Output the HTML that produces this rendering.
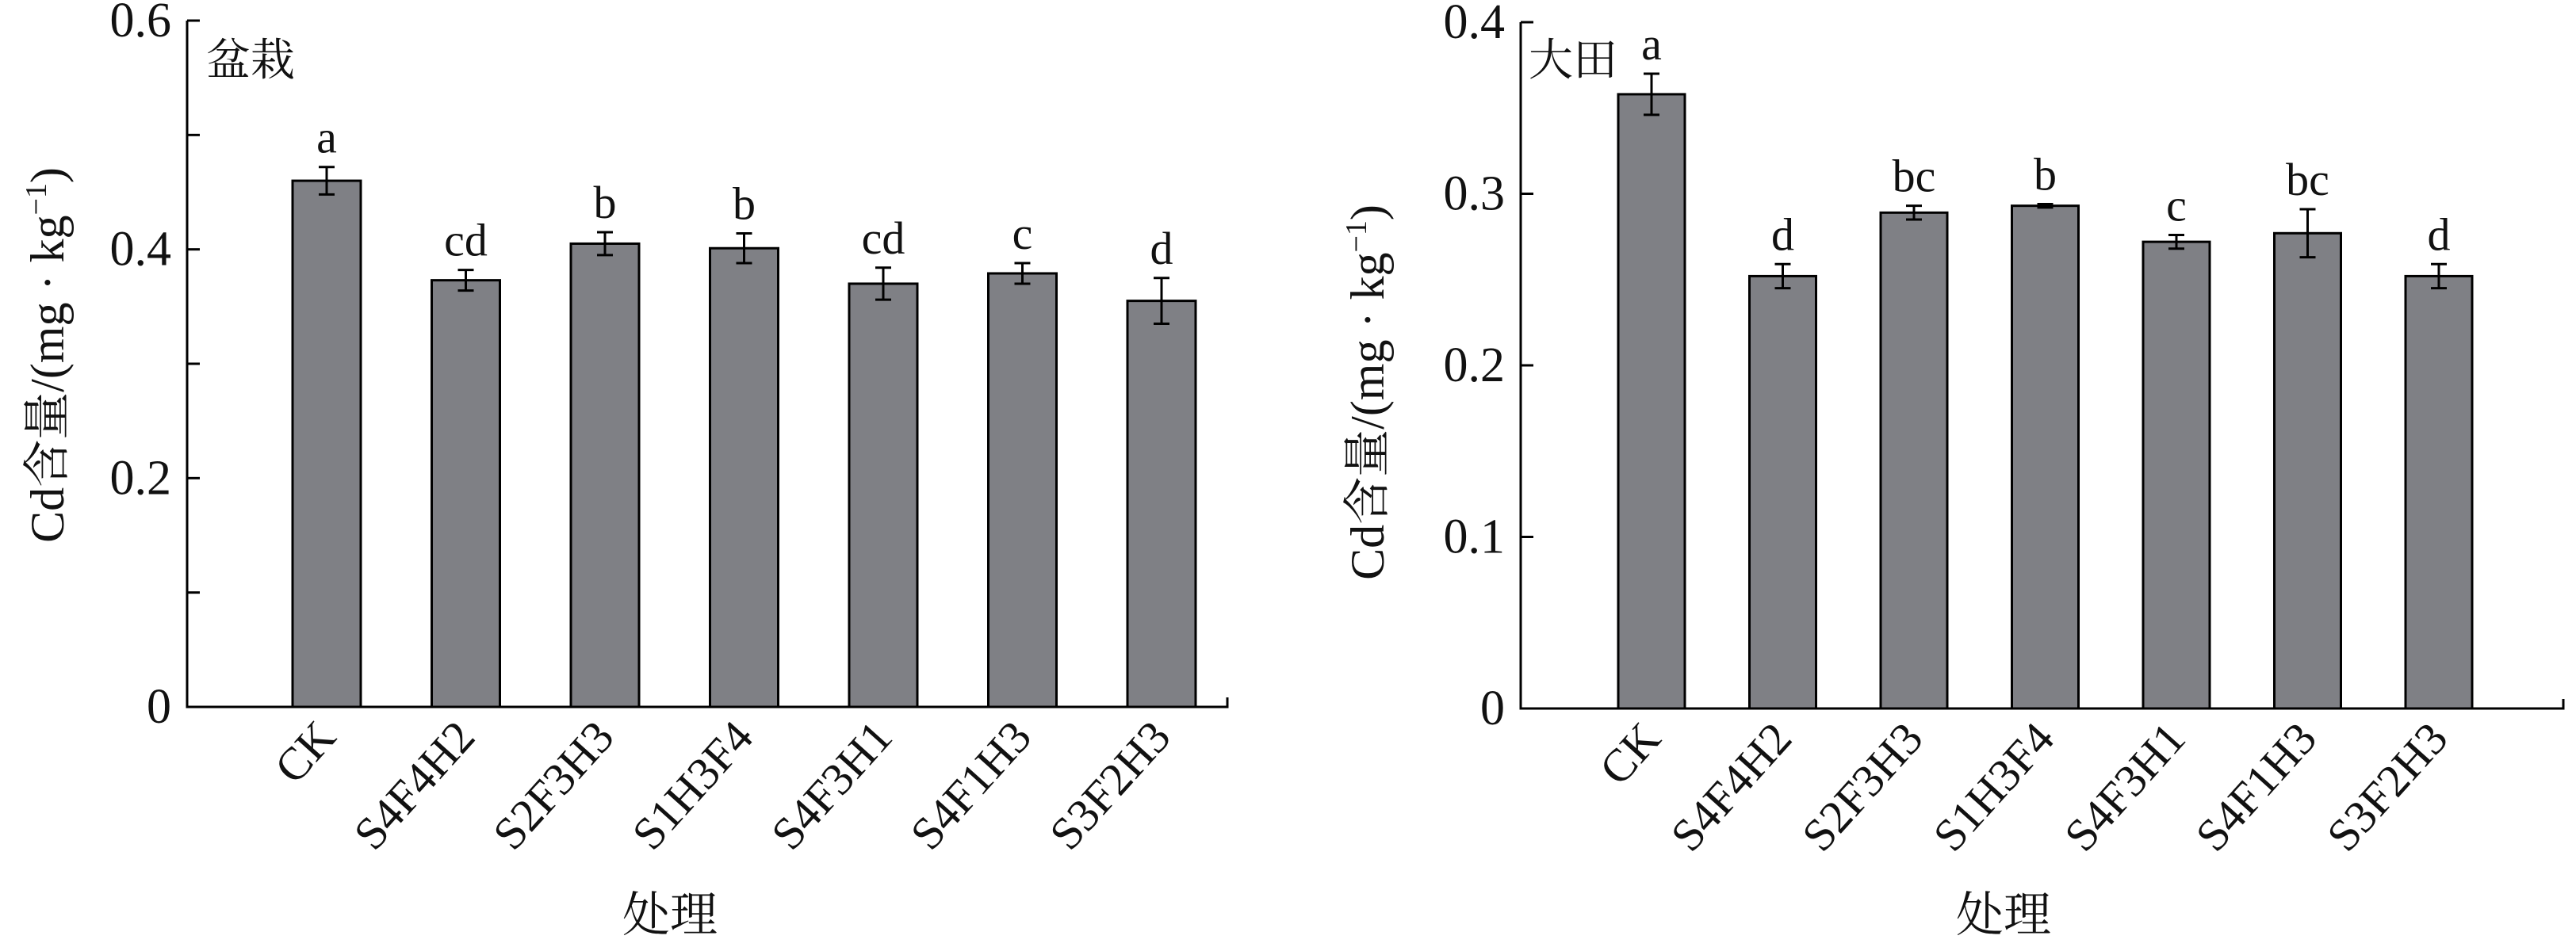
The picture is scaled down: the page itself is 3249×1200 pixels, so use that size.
<!DOCTYPE html>
<html><head><meta charset="utf-8"><style>
body{margin:0;background:#fff}
svg text{font-family:"Liberation Serif","Noto Serif CJK SC",serif;fill:#111}
</style></head><body>
<svg id="c" width="3249" height="1195" viewBox="0 0 3249 1195"></svg>
<script>
const categories=["CK","S4F4H2","S2F3H3","S1H3F4","S4F3H1","S4F1H3","S3F2H3"];
const potValues=[0.460,0.373,0.405,0.401,0.370,0.379,0.355];
const potErrors=[0.012,0.009,0.010,0.013,0.014,0.009,0.020];
const potLetters=["a","cd","b","b","cd","c","d"];
const fieldValues=[0.358,0.252,0.289,0.293,0.272,0.277,0.252];
const fieldErrors=[0.012,0.007,0.004,0.001,0.004,0.014,0.007];
const fieldLetters=["a","d","bc","b","c","bc","d"];
const potTicks=["0","0.2","0.4","0.6"];
const fieldTicks=["0","0.1","0.2","0.3","0.4"];
const NS="http://www.w3.org/2000/svg";
const svg=document.getElementById('c');
function mk(tag,attrs,parent){const e=document.createElementNS(NS,tag);for(const k in attrs)e.setAttribute(k,attrs[k]);(parent||svg).appendChild(e);return e;}
function panel(o){
  const g=mk('g',{});
  
  
  const y=v=>o.y0-(v/o.max)*(o.y0-o.yTop);
  const x=i=>o.x0+i*o.step;
  const ax=mk('path',{d:`M${o.ax},${o.yTop} V${o.y0} H${o.axEnd} v-12`,stroke:'#000','stroke-width':3,fill:'none'},g);
  
  
  for(let v=0;v<=o.max+1e-9;v+=o.minor){
    mk('line',{x1:o.ax,x2:o.ax+16,y1:y(v),y2:y(v),stroke:'#000','stroke-width':3},g);
  }
  o.ticks.forEach(t=>{
    const tx=mk('text',{x:o.ax-20,y:y(parseFloat(t))+20,'text-anchor':'end','font-size':62},g);
    tx.textContent=t;
    
    
  });
  categories.forEach((c,i)=>{
    const cx=x(i),v=o.values[i],e=o.errors[i];
    const b=mk('rect',{x:cx-o.bw/2,y:y(v),width:o.bw,height:o.y0-y(v),fill:'#7f8085',stroke:'#000','stroke-width':3},g);
    
    
    const eb=mk('path',{d:`M${cx},${y(v+e)}V${y(v-e)}M${cx-10},${y(v+e)}h20M${cx-10},${y(v-e)}h20`,stroke:'#000','stroke-width':3,fill:'none'},g);
    
    
    const l=mk('text',{x:cx,y:y(v+e)-18,'text-anchor':'middle','font-size':58},g);
    l.textContent=o.letters[i];
    
    
    const ct=mk('text',{x:cx+14,y:o.y0+40,'text-anchor':'end','font-size':58,transform:`rotate(-48 ${cx+14} ${o.y0+40})`},g);
    ct.textContent=c;
    
    
  });
  const yt=mk('text',{x:0,y:0,'text-anchor':'middle','font-size':60,transform:`translate(${o.ytx},${o.yty}) rotate(-90)`},g);
  yt.innerHTML='Cd含量/(mg · kg<tspan dy="-22" font-size="38">−1</tspan><tspan dy="22">)</tspan>';
  
  
  const xt=mk('text',{x:o.xtx,y:1175,'text-anchor':'middle','font-size':60},g);
  xt.textContent='处理';
  
  
  const pt=mk('text',{x:o.ptx,y:95,'font-size':56},g);
  pt.textContent=o.title;
  
  
}
panel({name:'pot-panel',ax:236,axEnd:1548,y0:892,yTop:26,max:0.6,minor:0.1,ticks:potTicks,x0:412,step:175.5,bw:86,
  values:potValues,errors:potErrors,letters:potLetters,ytx:80,yty:448,xtx:845,ptx:260,title:'盆栽'});
panel({name:'field-panel',ax:1918,axEnd:3233,y0:894,yTop:28,max:0.4,minor:0.1,ticks:fieldTicks,x0:2083,step:165.5,bw:84,
  values:fieldValues,errors:fieldErrors,letters:fieldLetters,ytx:1745,yty:495,xtx:2527,ptx:1928,title:'大田'});
</script>
</body></html>
